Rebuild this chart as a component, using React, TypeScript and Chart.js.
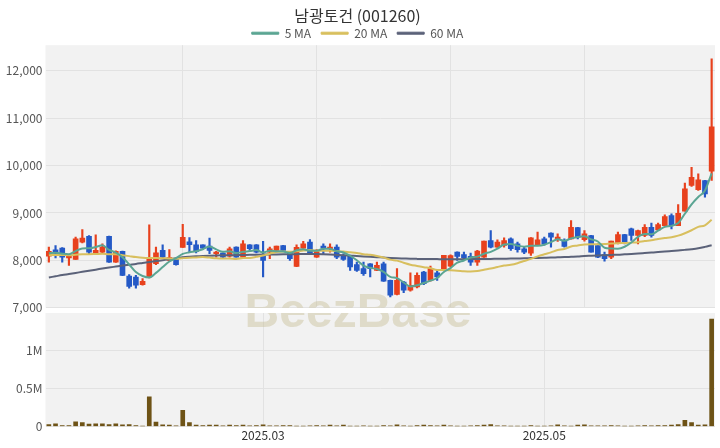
import React, { useEffect, useRef } from 'react';
import { Chart, registerables } from 'chart.js';

Chart.register(...registerables);

const title = '남광토건 (001260)';

const dates = [
  '2025-01-10', '2025-01-13', '2025-01-14', '2025-01-15', '2025-01-16', '2025-01-17', '2025-01-20', '2025-01-21', '2025-01-22', '2025-01-23',
  '2025-01-24', '2025-01-31', '2025-02-03', '2025-02-04', '2025-02-05', '2025-02-06', '2025-02-07', '2025-02-10', '2025-02-11', '2025-02-12',
  '2025-02-13', '2025-02-14', '2025-02-17', '2025-02-18', '2025-02-19', '2025-02-20', '2025-02-21', '2025-02-24', '2025-02-25', '2025-02-26',
  '2025-02-27', '2025-02-28', '2025-03-04', '2025-03-05', '2025-03-06', '2025-03-07', '2025-03-10', '2025-03-11', '2025-03-12', '2025-03-13',
  '2025-03-14', '2025-03-17', '2025-03-18', '2025-03-19', '2025-03-20', '2025-03-21', '2025-03-24', '2025-03-25', '2025-03-26', '2025-03-27',
  '2025-03-28', '2025-03-31', '2025-04-01', '2025-04-02', '2025-04-03', '2025-04-04', '2025-04-07', '2025-04-08', '2025-04-09', '2025-04-10',
  '2025-04-11', '2025-04-14', '2025-04-15', '2025-04-16', '2025-04-17', '2025-04-18', '2025-04-21', '2025-04-22', '2025-04-23', '2025-04-24',
  '2025-04-25', '2025-04-28', '2025-04-29', '2025-04-30', '2025-05-02', '2025-05-07', '2025-05-08', '2025-05-09', '2025-05-12', '2025-05-13',
  '2025-05-14', '2025-05-15', '2025-05-16', '2025-05-19', '2025-05-20', '2025-05-21', '2025-05-22', '2025-05-23', '2025-05-26', '2025-05-27',
  '2025-05-28', '2025-05-29', '2025-05-30', '2025-06-02', '2025-06-04', '2025-06-05', '2025-06-09', '2025-06-10', '2025-06-11', '2025-06-12',
];

const opens = [
  8090, 8225, 8260, 8050, 8020, 8385, 8510, 8120, 8175, 8510,
  7965, 8190, 7670, 7650, 7490, 7650, 7930, 8210, 8000, 8035,
  8275, 8390, 8330, 8330, 8300, 8140, 8155, 8090, 8280, 8070,
  8330, 8330, 8105, 8175, 8210, 8315, 8160, 7875, 8260, 8385,
  8070, 8300, 8245, 8280, 8090, 8105, 7910, 7825, 7930, 7790,
  7930, 7580, 7280, 7545, 7370, 7440, 7755, 7580, 7740, 7825,
  7880, 8175, 8125, 8085, 7965, 8070, 8420, 8280, 8315, 8455,
  8350, 8245, 8155, 8315, 8455, 8575, 8435, 8420, 8455, 8690,
  8435, 8525, 8315, 8125, 8070, 8365, 8545, 8665, 8525, 8525,
  8700, 8645, 8735, 8945, 8735, 9040, 9580, 9490, 9685, 9880,
];

const highs = [
  8280, 8315, 8270, 8110, 8490, 8650, 8525, 8540, 8350, 8515,
  8200, 8195, 7700, 7685, 7615, 8750, 8280, 8330, 8230, 8050,
  8760, 8480, 8420, 8330, 8470, 8190, 8160, 8280, 8285, 8420,
  8335, 8335, 8400, 8280, 8300, 8320, 8165, 8330, 8400, 8440,
  8230, 8350, 8350, 8330, 8140, 8110, 7965, 7965, 7935, 7965,
  7965, 7585, 7825, 7560, 7740, 7740, 7770, 7880, 7790, 8105,
  8120, 8180, 8175, 8155, 8210, 8410, 8630, 8435, 8475, 8475,
  8385, 8280, 8480, 8600, 8490, 8580, 8560, 8455, 8840, 8700,
  8630, 8530, 8350, 8175, 8410, 8595, 8550, 8680, 8640, 8755,
  8785, 8785, 8960, 8980, 9180, 9630, 9965, 9825, 9690, 12250,
];

const lows = [
  7965, 8050, 7965, 7895, 8020, 8370, 8140, 8120, 8140, 7960,
  7960, 7680, 7415, 7415, 7475, 7630, 7910, 8050, 7990, 7900,
  8275, 8170, 8160, 8230, 8140, 8070, 8035, 8070, 8070, 8065,
  8210, 8160, 7650, 8035, 8200, 8200, 8000, 7870, 8255, 8120,
  8065, 8120, 8175, 8035, 8000, 7790, 7770, 7685, 7650, 7785,
  7555, 7230, 7270, 7320, 7350, 7420, 7490, 7560, 7580, 7790,
  7860, 8000, 8000, 7895, 7895, 8065, 8265, 8275, 8280, 8210,
  8175, 8140, 8105, 8310, 8320, 8280, 8400, 8280, 8450, 8455,
  8405, 8175, 8055, 7985, 8035, 8350, 8350, 8420, 8350, 8500,
  8490, 8630, 8720, 8665, 8735, 9040, 9560, 9475, 9335, 9685,
];

const closes = [
  8190, 8155, 8070, 8105, 8455, 8470, 8175, 8210, 8280, 7965,
  8190, 7685, 7450, 7475, 7560, 8035, 8160, 8070, 8060, 7910,
  8485, 8330, 8190, 8260, 8210, 8175, 8070, 8245, 8070, 8350,
  8245, 8175, 8000, 8245, 8300, 8210, 8035, 8275, 8350, 8140,
  8210, 8260, 8280, 8070, 8020, 7860, 7790, 7720, 7825, 7895,
  7560, 7265, 7580, 7370, 7475, 7685, 7510, 7825, 7650, 8105,
  8100, 8085, 8055, 7965, 8195, 8405, 8280, 8385, 8420, 8245,
  8225, 8175, 8475, 8435, 8350, 8490, 8490, 8295, 8700, 8490,
  8560, 8175, 8070, 8035, 8405, 8545, 8385, 8525, 8630, 8700,
  8525, 8755, 8925, 8735, 8995, 9510, 9755, 9700, 9405, 10820,
];

const ma5 = [
  8150, 8160, 8140, 8130, 8195, 8251, 8255, 8283, 8318, 8220,
  8164, 8066, 7914, 7753, 7672, 7641, 7736, 7860, 7977, 8047,
  8137, 8171, 8195, 8235, 8295, 8233, 8181, 8192, 8154, 8182,
  8196, 8217, 8168, 8203, 8193, 8186, 8158, 8213, 8234, 8202,
  8202, 8247, 8248, 8192, 8168, 8098, 8004, 7892, 7843, 7818,
  7758, 7653, 7625, 7534, 7450, 7475, 7524, 7573, 7629, 7755,
  7838, 7953, 7999, 8062, 8080, 8141, 8180, 8246, 8337, 8347,
  8311, 8290, 8308, 8311, 8332, 8385, 8448, 8412, 8465, 8493,
  8507, 8444, 8399, 8266, 8249, 8246, 8288, 8379, 8498, 8557,
  8553, 8627, 8707, 8728, 8787, 8984, 9184, 9339, 9473, 9838,
];

const ma20 = [
  8110, 8115, 8115, 8110, 8120, 8130, 8130, 8135, 8140, 8130,
  8130, 8110, 8090, 8070, 8055, 8050, 8050, 8045, 8040, 8034,
  8048, 8057, 8063, 8071, 8059, 8044, 8039, 8040, 8030, 8049,
  8052, 8076, 8104, 8142, 8179, 8188, 8182, 8192, 8207, 8218,
  8204, 8201, 8205, 8196, 8186, 8171, 8157, 8130, 8118, 8095,
  8061, 8016, 7995, 7951, 7910, 7883, 7857, 7835, 7800, 7798,
  7792, 7784, 7772, 7767, 7776, 7803, 7828, 7861, 7891, 7908,
  7941, 7987, 8032, 8085, 8129, 8169, 8218, 8241, 8294, 8313,
  8336, 8341, 8341, 8345, 8355, 8362, 8368, 8375, 8385, 8408,
  8423, 8452, 8474, 8489, 8522, 8573, 8636, 8706, 8741, 8858,
];

const ma60 = [
  7640, 7665, 7690, 7712, 7735, 7760, 7783, 7805, 7828, 7850,
  7870, 7890, 7908, 7925, 7945, 7965, 7985, 8005, 8025, 8045,
  8065, 8078, 8088, 8095, 8100, 8104, 8107, 8110, 8112, 8115,
  8118, 8120, 8122, 8124, 8126, 8128, 8130, 8132, 8134, 8135,
  8133, 8128, 8122, 8115, 8108, 8100, 8092, 8084, 8076, 8068,
  8060, 8052, 8045, 8040, 8035, 8032, 8030, 8028, 8027, 8026,
  8026, 8026, 8027, 8028, 8029, 8030, 8032, 8034, 8036, 8038,
  8041, 8044, 8048, 8052, 8056, 8060, 8065, 8070, 8076, 8082,
  8095, 8100, 8105, 8110, 8115, 8120, 8128, 8136, 8145, 8155,
  8165, 8175, 8186, 8198, 8210, 8222, 8236, 8255, 8285, 8320,
];

const volumes = [
  27000, 36000, 13000, 13000, 62000, 53000, 31000, 36000, 36000, 27000,
  36000, 22000, 27000, 13000, 4000, 391000, 58000, 22000, 18000, 9000,
  213000, 53000, 18000, 13000, 18000, 18000, 9000, 18000, 13000, 18000,
  9000, 13000, 22000, 9000, 9000, 13000, 13000, 5000, 5000, 9000,
  13000, 9000, 18000, 9000, 18000, 5000, 4000, 9000, 5000, 4000,
  13000, 9000, 22000, 9000, 4000, 13000, 18000, 13000, 9000, 18000,
  9000, 4000, 5000, 9000, 13000, 18000, 27000, 9000, 9000, 4000,
  5000, 4000, 13000, 5000, 4000, 9000, 22000, 9000, 5000, 18000,
  22000, 9000, 9000, 9000, 13000, 9000, 5000, 4000, 9000, 13000,
  9000, 13000, 13000, 18000, 27000, 80000, 53000, 18000, 22000, 1420000,
];

const priceTicks = [7000, 8000, 9000, 10000, 11000, 12000];
const volumeTicks = [0, 500000, 1000000];
const monthTickDates = ['2025-03-04', '2025-05-02'];
const monthTickLabels = ['2025.03', '2025.05'];

const UP = '#e8411d';
const DOWN = '#2459c6';
const C5 = '#5ba593';
const C20 = '#d8bf5e';
const C60 = '#5b6279';
const VOL = '#6e5316';
const PLOT_BG = '#f2f2f2';
const GRID = '#e2e2e2';
const FONT = "'Noto Sans CJK KR', 'Noto Sans', sans-serif";

const PRICE_TOP = 0;
const VOL_TOP = 308;

const bgPlugin = {
  id: 'plotBg',
  beforeDraw(chart: any) {
    const { ctx, chartArea } = chart;
    ctx.save();
    ctx.fillStyle = PLOT_BG;
    ctx.fillRect(chartArea.left, chartArea.top, chartArea.right - chartArea.left, chartArea.bottom - chartArea.top);
    ctx.restore();
  },
};

const makeWatermark = (offsetY: number) => ({
  id: 'watermark',
  beforeDatasetsDraw(chart: any) {
    const { ctx, chartArea } = chart;
    ctx.save();
    ctx.beginPath();
    ctx.rect(chartArea.left, chartArea.top, chartArea.right - chartArea.left, chartArea.bottom - chartArea.top);
    ctx.clip();
    ctx.font = "bold 48px 'Liberation Sans', Arial, sans-serif";
    ctx.fillStyle = 'rgba(200, 190, 150, 0.45)';
    ctx.textAlign = 'center';
    ctx.textBaseline = 'alphabetic';
    ctx.fillText('BeezBase', 358, 327 - offsetY);
    ctx.restore();
  },
});

const legendFit = {
  id: 'legendFit',
  beforeInit(chart: any) {
    const legend = chart.legend;
    if (!legend) return;
    const orig = legend.fit;
    legend.fit = function () {
      orig.call(this);
      this.height = 28;
    };
  },
};

export default function App() {
  const priceRef = useRef<HTMLCanvasElement>(null);
  const volRef = useRef<HTMLCanvasElement>(null);

  useEffect(() => {
    const candleColors = closes.map((c, i) => (c >= opens[i] ? UP : DOWN));
    const monthIdx = monthTickDates.map((d) => dates.indexOf(d));

    const price = new Chart(priceRef.current as HTMLCanvasElement, {
      type: 'bar',
      data: {
        labels: dates,
        datasets: [
          { type: 'line', label: '5 MA', data: ma5, borderColor: C5, backgroundColor: C5, borderWidth: 2, pointRadius: 0, cubicInterpolationMode: 'monotone', order: 0 } as any,
          { type: 'line', label: '20 MA', data: ma20, borderColor: C20, backgroundColor: C20, borderWidth: 2, pointRadius: 0, cubicInterpolationMode: 'monotone', order: 0 } as any,
          { type: 'line', label: '60 MA', data: ma60, borderColor: C60, backgroundColor: C60, borderWidth: 2, pointRadius: 0, cubicInterpolationMode: 'monotone', order: 0 } as any,
          { type: 'bar', label: 'wick', data: lows.map((l, i) => [l, highs[i]]), backgroundColor: candleColors, barThickness: 1.5, grouped: false, order: 2 } as any,
          { type: 'bar', label: 'body', data: opens.map((o, i) => [o, closes[i]]), backgroundColor: candleColors, barThickness: 5, grouped: false, minBarLength: 1, order: 1 } as any,
        ],
      },
      options: {
        animation: false,
        responsive: false,
        maintainAspectRatio: false,
        layout: { padding: { left: 0, right: 5, top: 0, bottom: 10 } },
        plugins: {
          title: {
            display: true,
            text: title,
            color: '#333',
            font: { family: FONT, size: 16, weight: 'normal' },
            padding: { top: 6, bottom: -8 },
          },
          legend: {
            display: true,
            labels: {
              color: '#555',
              font: { family: FONT, size: 12 },
              boxWidth: 27,
              boxHeight: 2,
              padding: 10,
              generateLabels: (chart: any) =>
                Chart.defaults.plugins.legend.labels
                  .generateLabels(chart)
                  .filter((it: any) => it.datasetIndex < 3)
                  .map((it: any) => ({ ...it, lineWidth: 1 })),
            },
          },
          tooltip: { enabled: false },
        },
        scales: {
          x: {
            offset: true,
            grid: {
              offset: false,
              drawTicks: false,
              color: (ctx: any) => (ctx.index > 0 && ctx.index % 20 === 0 ? GRID : 'rgba(0,0,0,0)'),
            },
            ticks: { display: false, autoSkip: false },
            border: { display: false },
          },
          y: {
            min: 7000,
            max: 12540,
            afterBuildTicks: (s: any) => {
              s.ticks = priceTicks.map((v) => ({ value: v }));
            },
            afterFit: (s: any) => {
              s.width = 45.5;
            },
            ticks: {
              color: '#555',
              font: { family: FONT, size: 12 },
              padding: 3,
              callback: (v: any) => Number(v).toLocaleString('en-US'),
            },
            grid: { color: GRID, drawTicks: false },
            border: { display: false },
          },
        },
      } as any,
      plugins: [bgPlugin, makeWatermark(PRICE_TOP), legendFit],
    });

    const vol = new Chart(volRef.current as HTMLCanvasElement, {
      type: 'bar',
      data: {
        labels: dates,
        datasets: [
          { label: 'Volume', data: volumes, backgroundColor: VOL, barThickness: 4 } as any,
        ],
      },
      options: {
        animation: false,
        responsive: false,
        maintainAspectRatio: false,
        layout: { padding: { left: 0, right: 5, top: 5, bottom: 0 } },
        plugins: { legend: { display: false }, title: { display: false }, tooltip: { enabled: false } },
        scales: {
          x: {
            offset: true,
            afterFit: (s: any) => {
              s.height = 21.5;
            },
            grid: {
              offset: false,
              drawTicks: false,
              color: (ctx: any) => (monthIdx.includes(ctx.index) ? GRID : 'rgba(0,0,0,0)'),
            },
            ticks: {
              autoSkip: false,
              maxRotation: 0,
              minRotation: 0,
              padding: 2,
              color: '#333',
              font: { family: FONT, size: 12 },
              callback: (_v: any, i: number) => {
                const k = monthIdx.indexOf(i);
                return k >= 0 ? monthTickLabels[k] : '';
              },
            },
            border: { display: false },
          },
          y: {
            min: 0,
            max: 1500000,
            afterBuildTicks: (s: any) => {
              s.ticks = volumeTicks.map((v) => ({ value: v }));
            },
            afterFit: (s: any) => {
              s.width = 45.5;
              s.paddingTop = 0;
              s.paddingBottom = 0;
            },
            ticks: {
              color: '#555',
              font: { family: FONT, size: 12 },
              padding: 3,
              callback: (v: any) => (Number(v) === 0 ? '0' : Number(v) / 1000000 + 'M'),
            },
            grid: { color: GRID, drawTicks: false },
            border: { display: false },
          },
        },
      } as any,
      plugins: [bgPlugin, makeWatermark(VOL_TOP)],
    });

    return () => {
      price.destroy();
      vol.destroy();
    };
  }, []);

  return (
    <div style={{ position: 'fixed', left: 0, top: 0, width: 720, height: 448, background: '#ffffff', overflow: 'hidden' }}>
      <canvas ref={priceRef} width={720} height={318} style={{ position: 'absolute', left: 0, top: PRICE_TOP, width: 720, height: 318 }} />
      <canvas ref={volRef} width={720} height={140} style={{ position: 'absolute', left: 0, top: VOL_TOP, width: 720, height: 140 }} />
    </div>
  );
}
